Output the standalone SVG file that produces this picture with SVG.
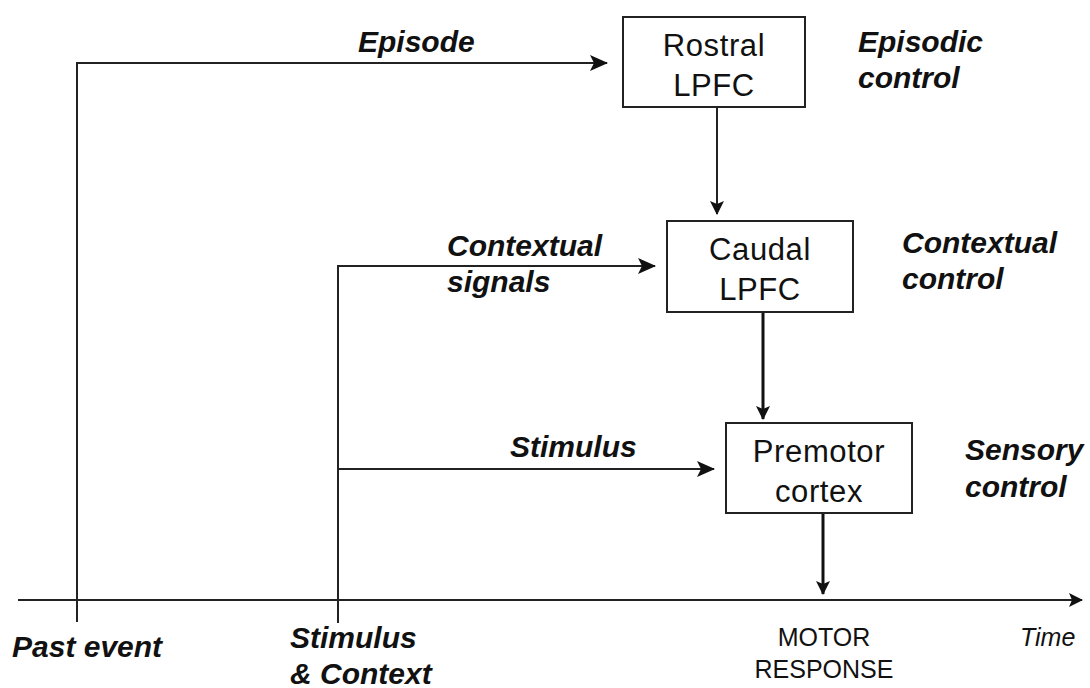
<svg xmlns="http://www.w3.org/2000/svg" width="1090" height="688" viewBox="0 0 1090 688">
<defs>
<style>
.lbl{font-family:"Liberation Sans",Arial,sans-serif;font-weight:bold;font-style:italic;font-size:30px;fill:#111}
.box{fill:#fff;stroke:#222;stroke-width:2}
.nt{font-family:"Liberation Sans",Arial,sans-serif;font-size:31px;letter-spacing:0.6px;fill:#111;text-anchor:middle}
.ln{fill:none;stroke:#222;stroke-width:2}
.thk{fill:none;stroke:#111;stroke-width:3}
.reg{font-family:"Liberation Sans",Arial,sans-serif;font-size:25px;fill:#111}
</style>
<marker id="ah2" markerWidth="14" markerHeight="14" refX="13" refY="7" orient="auto" markerUnits="userSpaceOnUse" viewBox="0 0 14 14">
<path d="M0,0 L14,7 L0,14 L3,7 Z" fill="#111"/>
</marker>
<marker id="ah3" markerWidth="18" markerHeight="16" refX="17" refY="8" orient="auto" markerUnits="userSpaceOnUse" viewBox="0 0 18 16">
<path d="M0,0 L18,8 L0,16 L4,8 Z" fill="#111"/>
</marker>
</defs>
<rect width="1090" height="688" fill="#fff"/>
<g id="connectors">
<line class="ln" x1="18" y1="600" x2="1082" y2="600" marker-end="url(#ah2)"/>
<polyline class="ln" points="77,622 77,63 607,63" marker-end="url(#ah3)"/>
<polyline class="ln" points="338,623 338,266 655,266" marker-end="url(#ah3)"/>
<line class="ln" x1="338" y1="469" x2="714" y2="469" marker-end="url(#ah3)"/>
<line class="ln" x1="717" y1="107" x2="717" y2="214" marker-end="url(#ah2)"/>
<line class="thk" x1="763" y1="312" x2="763" y2="419" marker-end="url(#ah2)"/>
<line class="thk" x1="823" y1="513" x2="823" y2="594" marker-end="url(#ah2)"/>
</g>
<g id="rostral">
<rect class="box" x="623" y="17" width="182" height="90"/>
<text class="nt" x="714" y="56">Rostral</text>
<text class="nt" x="714" y="96">LPFC</text>
</g>
<g id="caudal">
<rect class="box" x="667" y="221" width="186" height="91"/>
<text class="nt" x="760" y="260">Caudal</text>
<text class="nt" x="760" y="300">LPFC</text>
</g>
<g id="premotor">
<rect class="box" x="726" y="423" width="186" height="90"/>
<text class="nt" x="819" y="462">Premotor</text>
<text class="nt" x="819" y="502">cortex</text>
</g>
<g id="labels">
<text class="lbl" x="358" y="52">Episode</text>
<text class="lbl" x="858" y="52">Episodic</text>
<text class="lbl" x="858" y="88">control</text>
<text class="lbl" x="447" y="256">Contextual</text>
<text class="lbl" x="447" y="292">signals</text>
<text class="lbl" x="902" y="253">Contextual</text>
<text class="lbl" x="902" y="289">control</text>
<text class="lbl" x="510" y="457">Stimulus</text>
<text class="lbl" x="965" y="460">Sensory</text>
<text class="lbl" x="965" y="497">control</text>
<text class="lbl" x="12" y="657">Past event</text>
<text class="lbl" x="290" y="648">Stimulus</text>
<text class="lbl" x="290" y="684">&amp; Context</text>
<text class="reg" x="824" y="646" text-anchor="middle">MOTOR</text>
<text class="reg" x="824" y="678" text-anchor="middle">RESPONSE</text>
<text class="reg" x="1020" y="646" font-style="italic" font-size="27">Time</text>
</g>
</svg>
